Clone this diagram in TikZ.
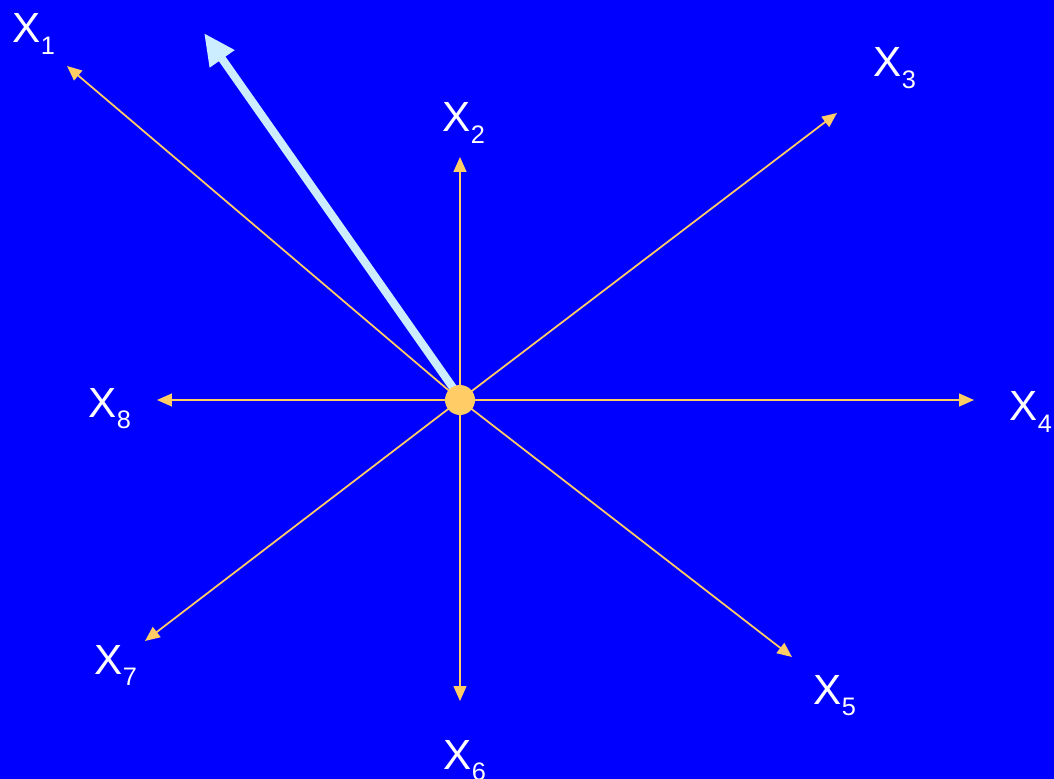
\documentclass[tikz,border=0pt]{standalone}
\usepackage{fontspec}
\setmainfont{Liberation Sans}
\usetikzlibrary{calc, positioning}
\usetikzlibrary{arrows.meta}

\definecolor{bgblue}{HTML}{0000FF}
\definecolor{axisorange}{HTML}{FFCC66}
\definecolor{paleblue}{HTML}{CCECFF}

\newcommand{\lowsub}[1]{\raisebox{-3.4pt}{\fontsize{7.2}{8}\selectfont #1}}

\begin{document}
\begin{tikzpicture}[x=0.01cm,y=-0.01cm,
  axis/.style={draw=axisorange, line width=0.5pt, -{Triangle[length=4.2pt,width=3.6pt]}},
  lbl/.style={text=white, inner sep=0pt, anchor=base west, font=\fontsize{12}{14}\selectfont}]
\fill[bgblue] (0,0) rectangle (1054,779);
\useasboundingbox (0,0) rectangle (1054,779);

\coordinate (O) at (460,400);
\coordinate (T1) at (67,66);
\coordinate (T2) at (460,157);
\coordinate (T3) at (837,113);
\coordinate (T4) at (974,400);
\coordinate (T5) at (792,657);
\coordinate (T6) at (460,701);
\coordinate (T7) at (145,641);
\coordinate (T8) at (157,400);
\coordinate (S) at (456,392);
\coordinate (P) at (204,33);

\foreach \i in {1,...,8}
  \draw[axis] (O) -- (T\i);

\draw[paleblue, line width=2.3pt, line cap=butt,
  -{Triangle[length=9pt,width=8pt]}] (S) -- (P);

\fill[axisorange] (O) circle (15);

\node[lbl] (x1) at (12,43) {X\lowsub{1}};
\node[lbl] (x2) at (442,132) {X\lowsub{2}};
\node[lbl] (x3) at (873,77) {X\lowsub{3}};
\node[lbl] (x4) at (1009,421) {X\lowsub{4}};
\node[lbl] (x5) at (813,704) {X\lowsub{5}};
\node[lbl] (x6) at (443,769) {X\lowsub{6}};
\node[lbl] (x7) at (94,674) {X\lowsub{7}};
\node[lbl] (x8) at (88,417) {X\lowsub{8}};
\end{tikzpicture}
\end{document}
